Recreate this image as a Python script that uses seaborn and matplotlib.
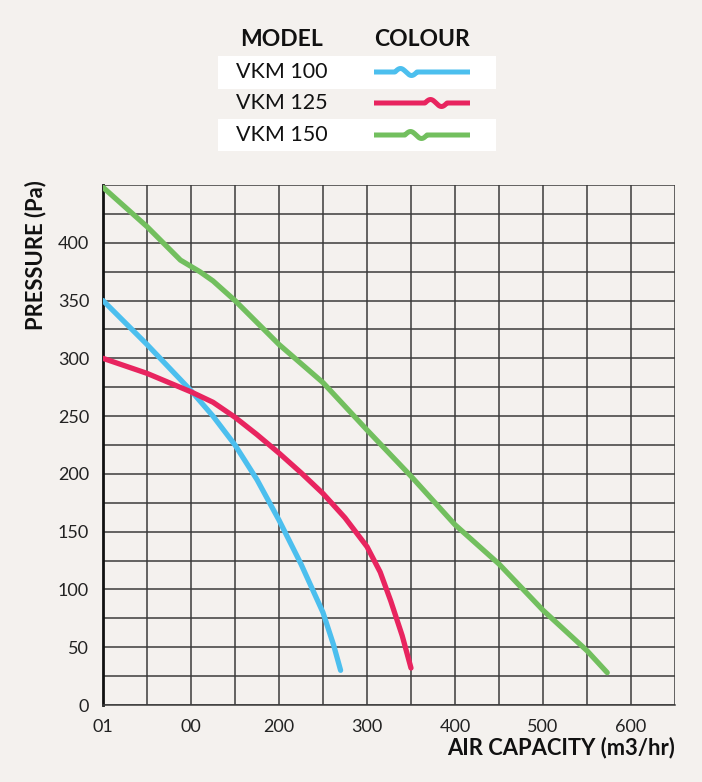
import numpy as np
import pandas as pd
import matplotlib
matplotlib.use("Agg")
import matplotlib.pyplot as plt
from matplotlib.lines import Line2D
from matplotlib.patches import Rectangle
import seaborn as sns

# ---- data ----
models = ["VKM 100", "VKM 125", "VKM 150"]
colors = ["#4cbfee", "#e8245f", "#72bf5e"]

vkm100_x = [0, 50, 100, 125, 150, 175, 200, 225, 250, 262, 270]
vkm100_y = [350, 312, 272, 250, 225, 195, 160, 122, 80, 52, 30]

vkm125_x = [0, 50, 100, 125, 150, 175, 200, 225, 250, 275, 300, 315, 327, 340, 350]
vkm125_y = [300, 287, 271, 262, 249, 234, 218, 201, 183, 162, 137, 115, 90, 60, 32]

vkm150_x = [0, 50, 88, 110, 125, 150, 200, 250, 300, 350, 400, 450, 500, 550, 573]
vkm150_y = [448, 414, 385, 375, 367, 350, 312, 279, 238, 198, 156, 122, 82, 47, 28]

x_ticks = [0, 100, 200, 300, 400, 500, 600]
x_tick_labels = ["01", "00", "200", "300", "400", "500", "600"]
y_ticks = [0, 50, 100, 150, 200, 250, 300, 350, 400]

frames = []
for name, xs, ys in zip(models, [vkm100_x, vkm125_x, vkm150_x],
                        [vkm100_y, vkm125_y, vkm150_y]):
    frames.append(pd.DataFrame({"capacity": xs, "pressure": ys, "model": name}))
df = pd.concat(frames, ignore_index=True)

# ---- style ----
bg = "#f4f1ee"
sns.set_style("white")
plt.rcParams["font.family"] = ["Lato", "DejaVu Sans"]

fig = plt.figure(figsize=(7.02, 7.82), dpi=100, facecolor=bg)
ax = fig.add_axes([103/702, 77/782, 572/702, 520/782])
ax.set_facecolor(bg)

sns.lineplot(data=df, x="capacity", y="pressure", hue="model",
             palette=dict(zip(models, colors)), linewidth=3.8,
             sort=False, legend=False, ax=ax, solid_capstyle="round",
             solid_joinstyle="round", zorder=3)

ax.set_xlim(0, 650)
ax.set_ylim(0, 450)
ax.set_xticks(x_ticks)
ax.set_xticklabels(x_tick_labels)
ax.set_yticks(y_ticks)
ax.set_xticks(np.arange(0, 651, 50), minor=True)
ax.set_yticks(np.arange(0, 451, 25), minor=True)
ax.grid(True, which="both", color="#3b3b3b", linewidth=1.1, zorder=1)
ax.set_axisbelow(True)
ax.tick_params(axis="both", which="major", length=6, width=1.2, color="#222222",
               labelsize=13, labelcolor="#222222", pad=4, direction="out")
ax.tick_params(axis="both", which="minor", length=0)
for s in ["top", "right"]:
    ax.spines[s].set_visible(False)
ax.spines["bottom"].set_color("#3b3b3b")
ax.spines["bottom"].set_linewidth(1.1)
ax.spines["left"].set_color("#111111")
ax.spines["left"].set_linewidth(2)

ax.set_xlabel("")
ax.set_ylabel("")
fig.text(675/702, 1 - 748/782, "AIR CAPACITY (m3/hr)", ha="right", va="center",
         fontsize=15.8, fontweight="bold", color="#111111")
fig.text(36/702, 1 - 255/782, "PRESSURE (Pa)", ha="center", va="center",
         rotation=90, fontsize=15.8, fontweight="bold", color="#111111")

# ---- legend table ----
W, H = 702, 782
def fy(py):
    return 1 - py / H

for top, bottom in [(56, 89), (119, 151)]:
    fig.patches.append(Rectangle((218/W, fy(bottom)), (496-218)/W, (bottom-top)/H,
                                 transform=fig.transFigure, facecolor="white",
                                 edgecolor="none", zorder=0))
fig.text(282/W, fy(40), "MODEL", ha="center", va="center", fontsize=16.5,
         fontweight="bold", color="#111111")
fig.text(422/W, fy(40), "COLOUR", ha="center", va="center", fontsize=16.5,
         fontweight="bold", color="#111111")

row_y = [72, 103, 135]
bump_start = [395, 425, 405]
for name, c, py, bs in zip(models, colors, row_y, bump_start):
    fig.text(282/W, fy(py), name, ha="center", va="center", fontsize=15.5,
             color="#111111")
    t = np.linspace(0, 1, 200)
    xs = 374 + (470 - 374) * t
    ys = np.zeros_like(xs)
    mask = (xs >= bs) & (xs <= bs + 22)
    ph = (xs[mask] - bs) / 22 * 2 * np.pi
    ys[mask] = -3.5 * np.sin(ph)
    fig.lines.append(Line2D(xs / W, fy(py + ys), transform=fig.transFigure,
                            color=c, linewidth=3.6, solid_capstyle="butt"))

fig.savefig("out.png", dpi=100, facecolor=bg)
